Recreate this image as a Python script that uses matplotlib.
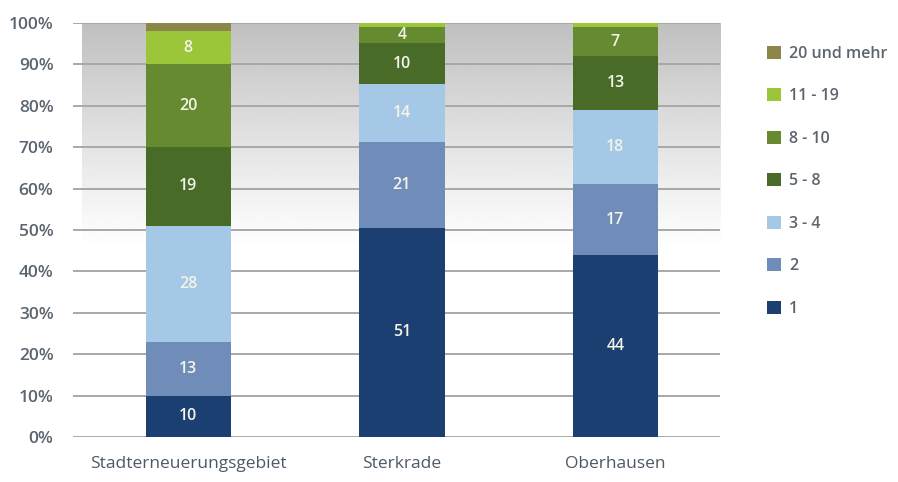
import matplotlib
matplotlib.use("Agg")
import matplotlib.pyplot as plt
import numpy as np
from matplotlib.patches import Patch

plt.rcParams['font.family'] = ['Open Sans', 'DejaVu Sans']

categories = ["Stadterneuerungsgebiet", "Sterkrade", "Oberhausen"]
series_names = ["1", "2", "3 - 4", "5 - 8", "8 - 10", "11 - 19", "20 und mehr"]
values = {
    "1": [10, 51, 44],
    "2": [13, 21, 17],
    "3 - 4": [28, 14, 18],
    "5 - 8": [19, 10, 13],
    "8 - 10": [20, 4, 7],
    "11 - 19": [8, 1, 1],
    "20 und mehr": [2, 0, 0],
}
colors = ["#1c3f72", "#6f8db8", "#a5c8e6", "#486b28", "#668a30", "#9cc63a", "#8c8649"]
yticks = [0, 10, 20, 30, 40, 50, 60, 70, 80, 90, 100]
ytick_labels = [f"{t}%" for t in yticks]

fig = plt.figure(figsize=(8.98, 4.82), dpi=100)
ax = fig.add_axes([0.0813, 0.0934, 0.7205, 0.859])
x = np.arange(len(categories))
xlim = (-0.54, 2.49)

# background gradient (gray at top fading to white around 45%)
ys = np.linspace(0, 100, 200)
g = np.clip((ys - 45) / 55, 0, 1)
shade = 1.0 - 0.25 * g ** 1.1
img = np.repeat(shade[:, None], 2, axis=1)
ax.imshow(img, extent=(xlim[0] + 0.04, xlim[1], 0, 100), origin='lower',
          cmap='gray', vmin=0, vmax=1, aspect='auto', zorder=0)

for t in yticks:
    ax.axhline(t, color="#a8a8a8", lw=1.4, zorder=1)

# 100% stacked: each bar normalized by its total
totals = np.sum([values[n] for n in series_names], axis=0).astype(float)
bottom = np.zeros(len(categories))
for name, col in zip(series_names, colors):
    v = np.array(values[name], dtype=float)
    h = v / totals * 100
    ax.bar(x, h, bottom=bottom, width=0.40, color=col, zorder=2, linewidth=0)
    for xi, vi, hi, bi in zip(x, v, h, bottom):
        if vi >= 4:
            ax.text(xi, bi + hi / 2, f"{int(vi)}", ha='center', va='center',
                    color="#f2f5e8", fontsize=11.5, fontweight='semibold', zorder=3)
    bottom += h

ax.set_xlim(*xlim)
ax.set_ylim(0, 100)
ax.set_yticks(yticks)
ax.set_yticklabels(ytick_labels, fontsize=12.5, color="#5b6570", fontweight='semibold')
ax.set_xticks(x)
ax.set_xticklabels(categories, fontsize=12.5, color="#4d5966")
ax.tick_params(axis='both', length=0)
ax.tick_params(axis='y', pad=14)
ax.tick_params(axis='x', pad=14)
for s in ax.spines.values():
    s.set_visible(False)

handles = [Patch(facecolor=c, edgecolor='none') for c in colors][::-1]
labels = series_names[::-1]
leg = fig.legend(handles, labels, loc='upper left', bbox_to_anchor=(0.838, 0.935),
                 frameon=False, fontsize=11.5, handlelength=0.9, handleheight=0.9,
                 labelspacing=1.65, handletextpad=0.5)
for t in leg.get_texts():
    t.set_color("#5b6570")
    t.set_fontweight('semibold')

fig.savefig("out.png", dpi=100)
